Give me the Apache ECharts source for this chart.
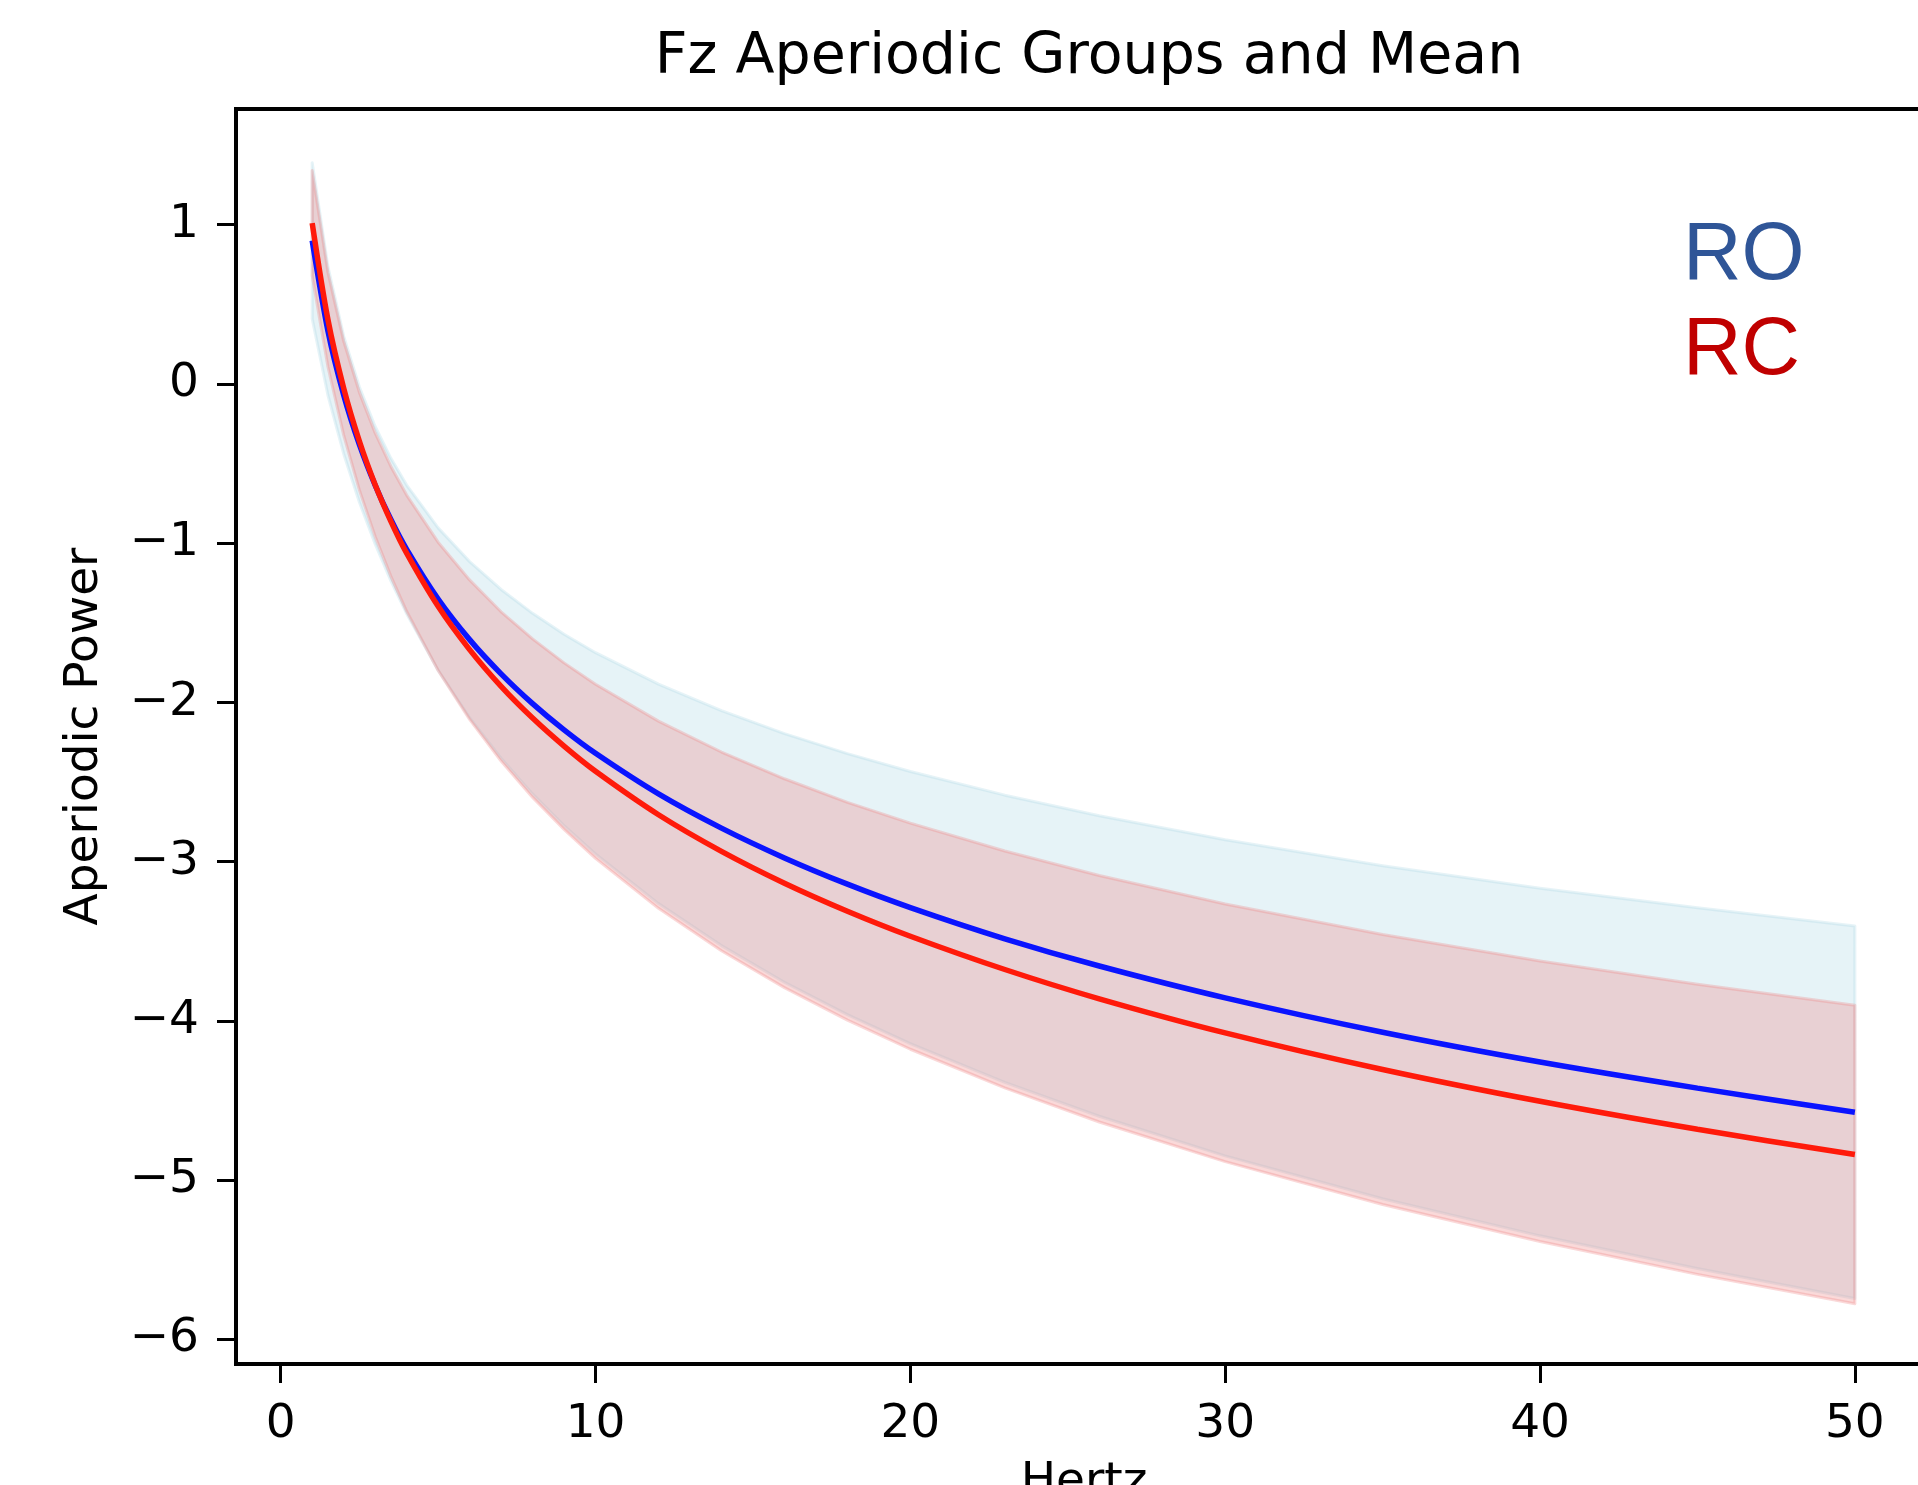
<!DOCTYPE html>
<html>
<head>
<meta charset="utf-8">
<script src="https://cdn.jsdelivr.net/npm/echarts@6/dist/echarts.min.js"></script>
<style>
html,body{margin:0;padding:0;background:#fff;}
#chart{width:1918px;height:1485px;}
</style>
</head>
<body>
<div id="chart"></div>
<script>
// Frequencies (Hz)
const freqs = [1,1.5,2,2.5,3,3.5,4,5,6,7,8,9,10,12,14,16,18,20,23,26,30,35,40,45,50];
// RO group: mean and band edges
const roMean  = [0.900,0.333,-0.069,-0.381,-0.636,-0.852,-1.039,-1.351,-1.606,-1.821,-2.008,-2.173,-2.320,-2.575,-2.790,-2.977,-3.142,-3.289,-3.485,-3.656,-3.856,-4.072,-4.259,-4.423,-4.575];
const roUpper = [1.390,0.737,0.300,-0.019,-0.267,-0.467,-0.635,-0.904,-1.116,-1.291,-1.441,-1.572,-1.688,-1.886,-2.052,-2.196,-2.322,-2.434,-2.583,-2.712,-2.863,-3.026,-3.167,-3.290,-3.405];
const roLower = [0.410,-0.071,-0.438,-0.743,-1.005,-1.237,-1.443,-1.798,-2.096,-2.351,-2.575,-2.774,-2.952,-3.264,-3.528,-3.758,-3.962,-4.144,-4.387,-4.600,-4.849,-5.118,-5.351,-5.556,-5.745];
// RC group: mean and band edges
const rcMean  = [1.010,0.404,-0.026,-0.360,-0.633,-0.863,-1.063,-1.397,-1.669,-1.900,-2.099,-2.275,-2.433,-2.706,-2.936,-3.136,-3.312,-3.469,-3.678,-3.862,-4.076,-4.306,-4.506,-4.682,-4.840];
const rcUpper = [1.340,0.700,0.269,-0.053,-0.308,-0.518,-0.698,-0.994,-1.231,-1.431,-1.601,-1.752,-1.886,-2.118,-2.312,-2.480,-2.628,-2.759,-2.934,-3.088,-3.267,-3.458,-3.625,-3.771,-3.903];
const rcLower = [0.680,0.108,-0.321,-0.667,-0.958,-1.208,-1.428,-1.800,-2.107,-2.369,-2.597,-2.798,-2.980,-3.294,-3.560,-3.792,-3.996,-4.179,-4.422,-4.636,-4.885,-5.154,-5.387,-5.593,-5.777];
// Tick labels
const xTicks = [0,10,20,30,40,50];
const yTicks = [-6,-5,-4,-3,-2,-1,0,1];
const groupLabels = ['RO','RC'];

const pairs = (ys) => freqs.map((f,i)=>[f, ys[i]]);
const bandData = (lo, up) => freqs.map((f,i)=>[f, lo[i], up[i]]);

const blueBand = 'rgba(173,216,230,0.3)';
const redBand = 'rgba(240,128,128,0.3)';
const SM = 0.3;
const FONT = 'DejaVu Sans';
const TICK_FS = 47;

function bandRenderer(color){
  return function(params, api){
    if (params.dataIndexInside !== 0) return;
    const n = params.dataInsideLength;
    const top = [], bot = [];
    for (let j = 0; j < n; j++){
      top.push(api.coord([api.value(0, j), api.value(2, j)]));
      bot.push(api.coord([api.value(0, j), api.value(1, j)]));
    }
    const pts = top.concat(bot.reverse());
    return {
      type:'polygon',
      shape:{points:pts},
      style:{fill:color, stroke:color, lineWidth:3, lineJoin:'round'}
    };
  };
}

const chart = echarts.init(document.getElementById('chart'), null, {renderer:'canvas'});
chart.setOption({
  animation:false,
  backgroundColor:'#ffffff',
  textStyle:{fontFamily:FONT},
  title:{
    text:'Fz Aperiodic Groups and Mean',
    left:1084, top:25, textAlign:'center',
    textStyle:{fontFamily:FONT, fontSize:57, fontWeight:'normal', color:'#000'}
  },
  grid:{left:236, top:109, right:-14, bottom:121, show:true, borderColor:'#000', borderWidth:4,
    backgroundColor:'transparent', containLabel:false, outerBoundsMode:'none'},
  xAxis:{
    type:'value', min:-1.42, max:52.45,
    name:'Hertz', nameLocation:'middle', nameGap:95,
    nameTextStyle:{fontFamily:FONT, fontSize:TICK_FS, color:'#000'},
    axisLine:{show:false, onZero:false},
    axisTick:{show:true, length:19, lineStyle:{color:'#000', width:3}, customValues:xTicks},
    axisLabel:{show:true, customValues:xTicks, margin:37, fontFamily:FONT, fontSize:TICK_FS, color:'#000'},
    splitLine:{show:false}
  },
  yAxis:{
    type:'value', min:-6.156, max:1.727,
    name:'Aperiodic Power', nameLocation:'middle', nameGap:128,
    nameTextStyle:{fontFamily:FONT, fontSize:TICK_FS, color:'#000'},
    axisLine:{show:false, onZero:false},
    axisTick:{show:true, length:19, lineStyle:{color:'#000', width:3}, customValues:yTicks},
    axisLabel:{show:true, customValues:yTicks, margin:37, fontFamily:FONT, fontSize:TICK_FS, color:'#000',
      formatter:(v)=> v<0 ? '\u2212'+Math.abs(v) : String(v)},
    splitLine:{show:false}
  },
  series:[
    {type:'custom', name:'RO band', data:bandData(roLower, roUpper), encode:{x:0, y:[1,2]},
      renderItem:bandRenderer(blueBand), silent:true, clip:true, z:1},
    {type:'custom', name:'RC band', data:bandData(rcLower, rcUpper), encode:{x:0, y:[1,2]},
      renderItem:bandRenderer(redBand), silent:true, clip:true, z:1},
    {type:'line', name:'RO', data:pairs(roMean), smooth:SM, symbol:'none', z:3,
      lineStyle:{color:'#0a14ff', width:5.5}},
    {type:'line', name:'RC', data:pairs(rcMean), smooth:SM, symbol:'none', z:3,
      lineStyle:{color:'#ff1a0a', width:5.5}}
  ],
  graphic:[
    {type:'text', left:1683, top:216, style:{text:groupLabels[0], fontFamily:'Liberation Sans', fontSize:81, fill:'#2F5597'}},
    {type:'text', left:1683, top:311, style:{text:groupLabels[1], fontFamily:'Liberation Sans', fontSize:81, fill:'#C00000'}}
  ]
});
</script>
</body>
</html>
